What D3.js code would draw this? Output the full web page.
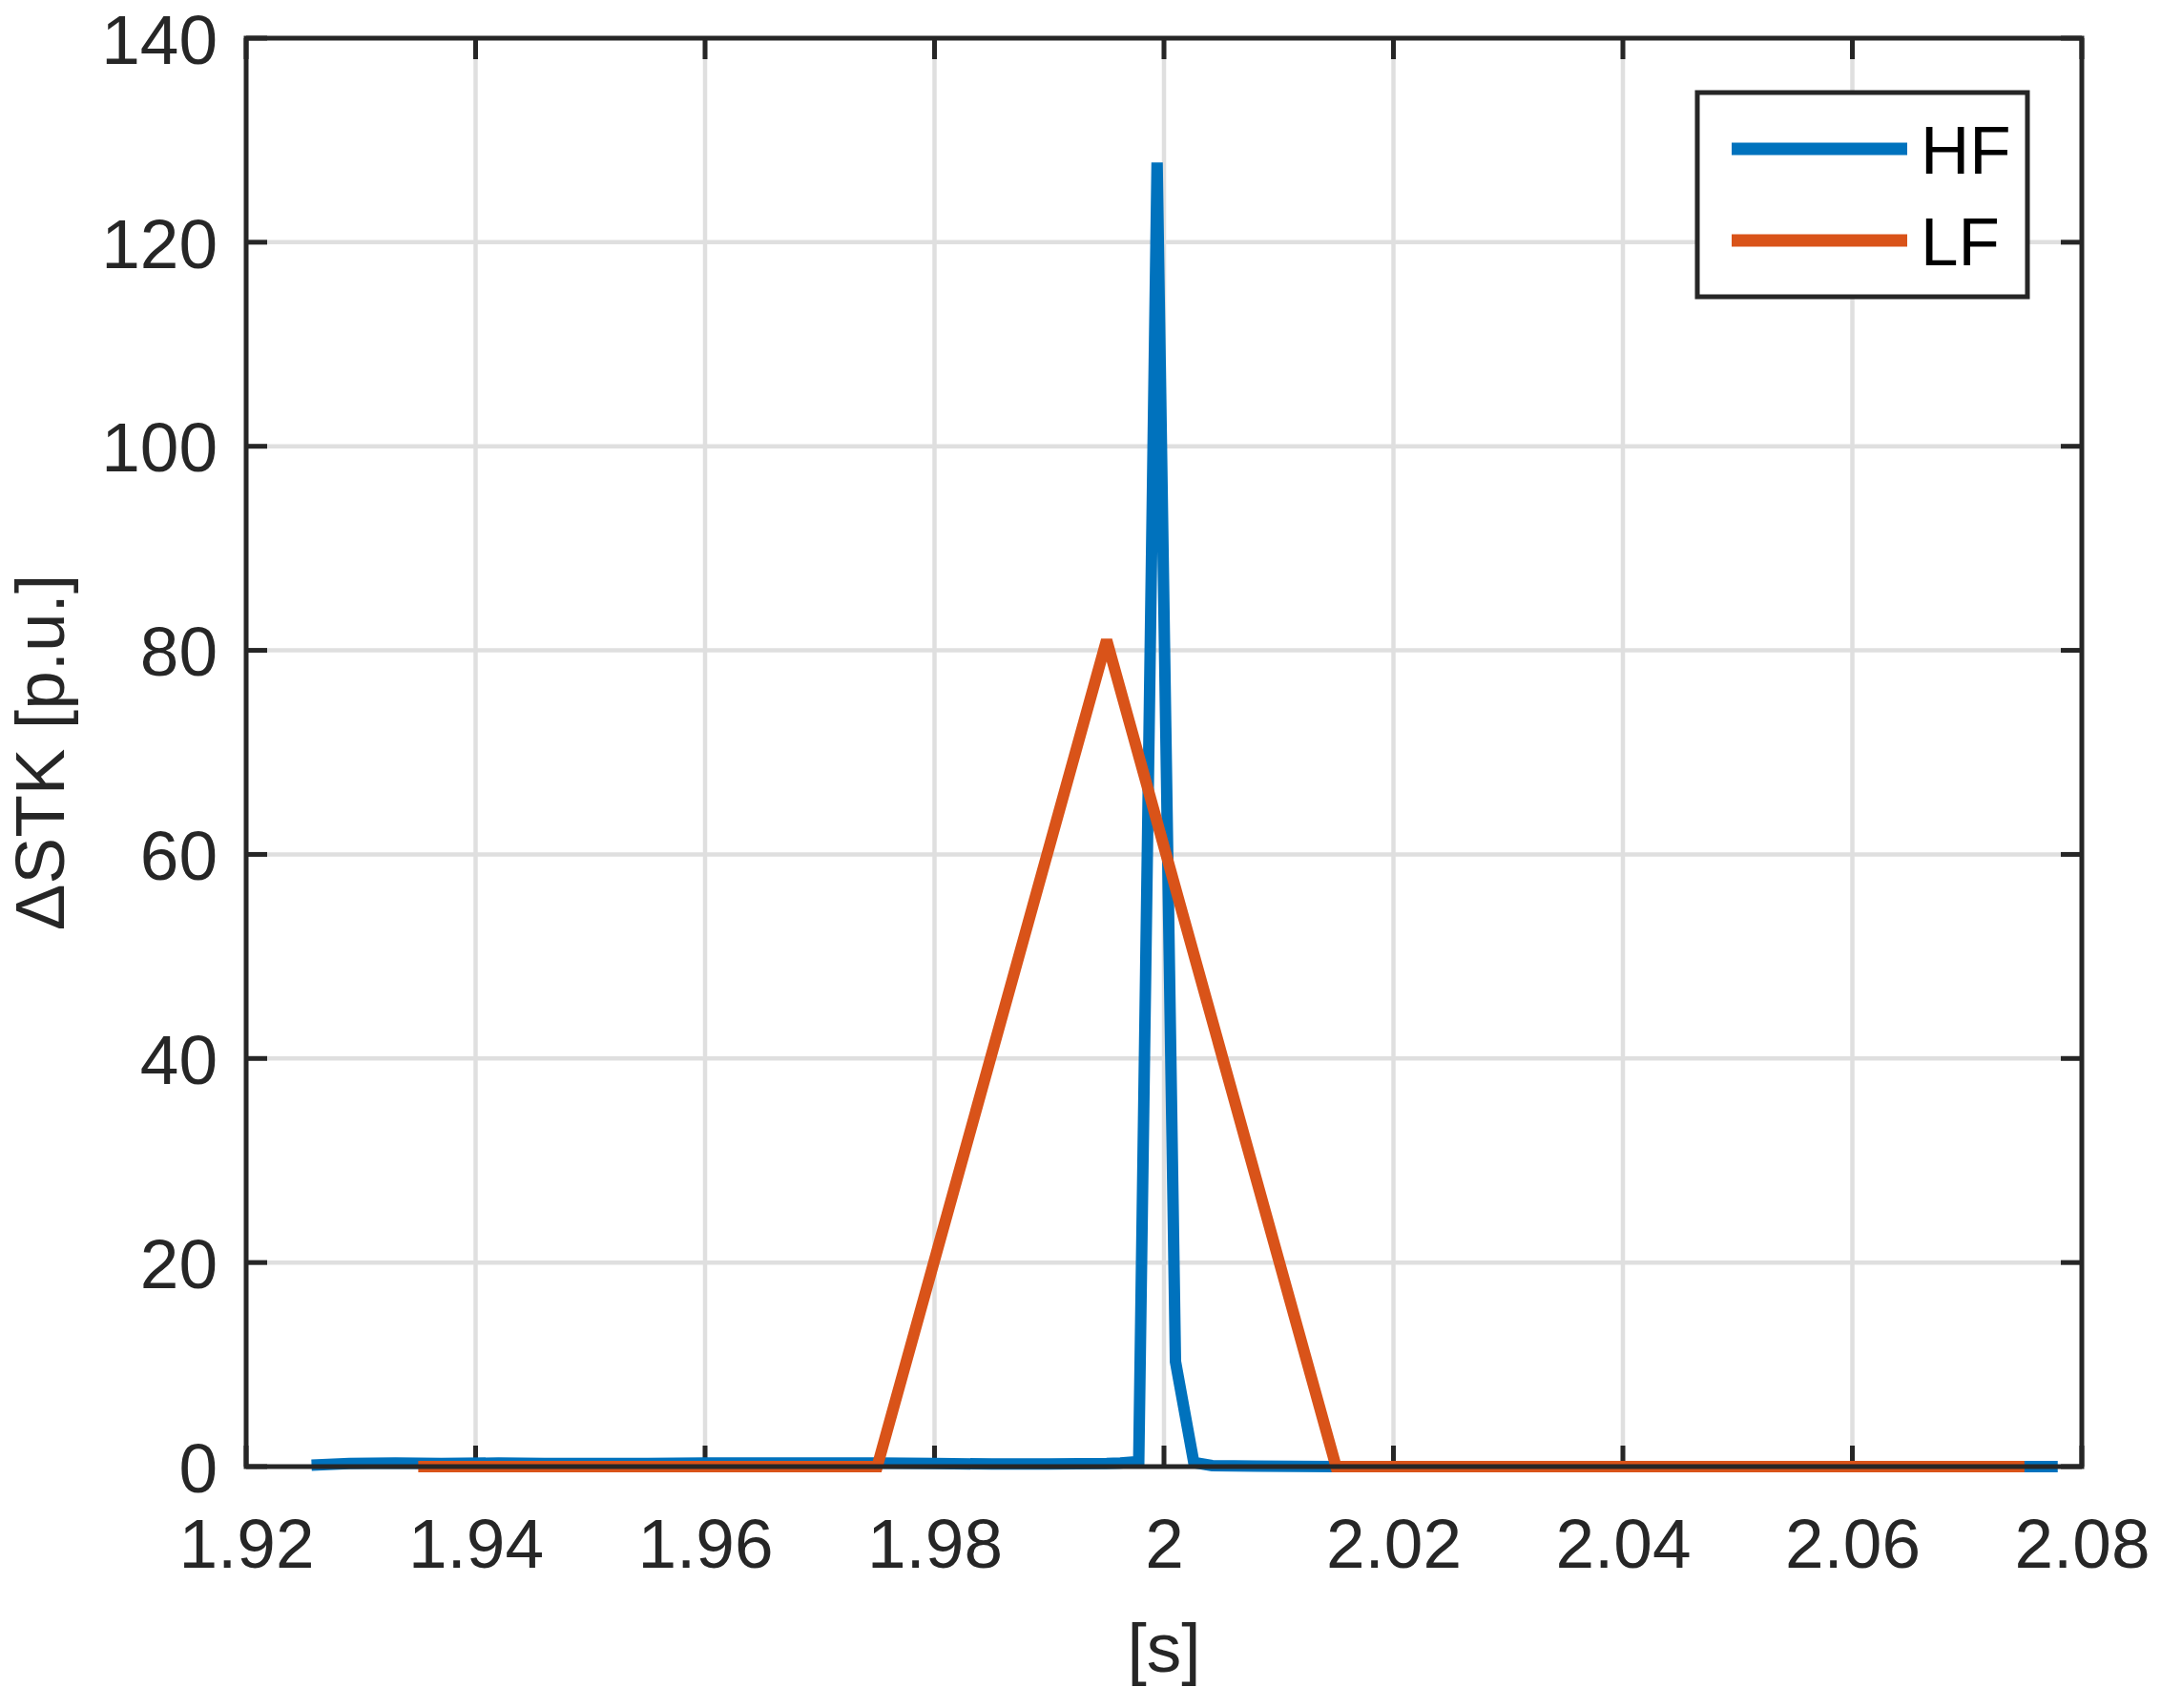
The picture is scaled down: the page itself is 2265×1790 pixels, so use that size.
<!DOCTYPE html>
<html>
<head>
<meta charset="utf-8">
<script src="https://cdn.jsdelivr.net/npm/d3@7"></script>
<style>
  html, body { margin: 0; padding: 0; background: #fff; }
  svg { display: block; }
  text { font-family: "Liberation Sans", Arial, sans-serif; }
</style>
</head>
<body>
<script>
// ---- Data ----
const xTicks = [1.92, 1.94, 1.96, 1.98, 2.00, 2.02, 2.04, 2.06, 2.08];
const xTickLabels = ["1.92", "1.94", "1.96", "1.98", "2", "2.02", "2.04", "2.06", "2.08"];
const yTicks = [0, 20, 40, 60, 80, 100, 120, 140];
const yTickLabels = ["0", "20", "40", "60", "80", "100", "120", "140"];

const hfTime = [1.9257, 1.9290, 1.9330, 1.9370, 1.9420, 1.9460, 1.9500, 1.9550, 1.9600, 1.9650,
                1.9700, 1.9750, 1.9800, 1.9850, 1.9900, 1.9950, 1.9962, 1.9978, 1.9994, 2.0010,
                2.0026, 2.0042, 2.0080, 2.0150, 2.0300, 2.0500, 2.0700, 2.0779];
const hfValue = [0.15, 0.3, 0.35, 0.3, 0.35, 0.3, 0.3, 0.3, 0.35, 0.35,
                 0.35, 0.35, 0.3, 0.25, 0.25, 0.3, 0.35, 0.5, 127.8, 10.3,
                 0.4, 0.1, 0.05, 0.0, 0.0, 0.0, 0.0, 0.0];

const lfTime = [1.935, 1.955, 1.975, 1.995, 2.015, 2.035, 2.055, 2.075];
const lfValue = [0, 0, 0, 81, 0, 0, 0, 0];

const seriesNames = ["HF", "LF"];
const seriesColors = ["#0072BD", "#D95319"];

// ---- Layout ----
const W = 2265, H = 1790;
const pL = 258, pR = 2182, pT = 40, pB = 1537;
const axisColor = "#262626";
const fontSize = 73;

const svg = d3.select("body").append("svg").attr("width", W).attr("height", H);
svg.append("rect").attr("width", W).attr("height", H).attr("fill", "#fff");

const x = d3.scaleLinear().domain([1.92, 2.08]).range([pL, pR]);
const y = d3.scaleLinear().domain([0, 140]).range([pB, pT]);

// Grid
const grid = svg.append("g");
grid.selectAll(".gx").data(xTicks.slice(1, -1)).enter().append("line")
  .attr("x1", d => x(d)).attr("x2", d => x(d)).attr("y1", pT).attr("y2", pB)
  .attr("stroke", "#dfdfdf").attr("stroke-width", 4.5);
grid.selectAll(".gy").data(yTicks.slice(1, -1)).enter().append("line")
  .attr("x1", pL).attr("x2", pR).attr("y1", d => y(d)).attr("y2", d => y(d))
  .attr("stroke", "#dfdfdf").attr("stroke-width", 4.5);

// Inner ticks (all four sides)
const tickLen = 22;
const ticks = svg.append("g").attr("stroke", axisColor).attr("stroke-width", 5);
xTicks.forEach(t => {
  ticks.append("line").attr("x1", x(t)).attr("x2", x(t)).attr("y1", pB).attr("y2", pB - tickLen);
  ticks.append("line").attr("x1", x(t)).attr("x2", x(t)).attr("y1", pT).attr("y2", pT + tickLen);
});
yTicks.forEach(t => {
  ticks.append("line").attr("x1", pL).attr("x2", pL + tickLen).attr("y1", y(t)).attr("y2", y(t));
  ticks.append("line").attr("x1", pR).attr("x2", pR - tickLen).attr("y1", y(t)).attr("y2", y(t));
});

// Series lines
const line = d3.line().x(d => x(d[0])).y(d => y(d[1]));
const hfData = hfTime.map((t, i) => [t, hfValue[i]]);
const lfData = lfTime.map((t, i) => [t, lfValue[i]]);
svg.append("path").datum(hfData).attr("d", line).attr("fill", "none")
  .attr("stroke", seriesColors[0]).attr("stroke-width", 12).attr("stroke-linejoin", "miter").attr("stroke-miterlimit", 1.5);
svg.append("path").datum(lfData).attr("d", line).attr("fill", "none")
  .attr("stroke", seriesColors[1]).attr("stroke-width", 12).attr("stroke-linejoin", "miter").attr("stroke-miterlimit", 3);

// Box
svg.append("rect").attr("x", pL).attr("y", pT).attr("width", pR - pL).attr("height", pB - pT)
  .attr("fill", "none").attr("stroke", axisColor).attr("stroke-width", 5);

// Tick labels
const xAxis = d3.axisBottom(x).tickValues(xTicks).tickFormat((d, i) => xTickLabels[i]).tickSize(0).tickPadding(0);
const gx = svg.append("g").attr("transform", `translate(0,${pB})`).call(xAxis);
gx.select(".domain").remove();
gx.selectAll("text").attr("font-size", fontSize).attr("fill", axisColor)
  .attr("font-family", "Liberation Sans, Arial, sans-serif")
  .attr("dy", null).attr("y", 106);

const yAxis = d3.axisLeft(y).tickValues(yTicks).tickFormat((d, i) => yTickLabels[i]).tickSize(0).tickPadding(0);
const gy = svg.append("g").attr("transform", `translate(${pL},0)`).call(yAxis);
gy.select(".domain").remove();
gy.selectAll("text").attr("font-size", fontSize).attr("fill", axisColor)
  .attr("font-family", "Liberation Sans, Arial, sans-serif")
  .attr("x", -30).attr("dy", "0.36em");

// Axis labels
svg.append("text").attr("x", (pL + pR) / 2).attr("y", 1752).attr("text-anchor", "middle")
  .attr("font-size", fontSize).attr("fill", axisColor).text("[s]");
svg.append("text").attr("transform", `translate(67,${(pT + pB) / 2}) rotate(-90)`)
  .attr("text-anchor", "middle").attr("font-size", fontSize).attr("fill", axisColor).text("ΔSTK [p.u.]");

// Legend
const lg = svg.append("g");
lg.append("rect").attr("x", 1779).attr("y", 97).attr("width", 2125 - 1779).attr("height", 311 - 97)
  .attr("fill", "#fff").attr("stroke", axisColor).attr("stroke-width", 5);
const legY = [156, 252];
seriesNames.forEach((name, i) => {
  lg.append("line").attr("x1", 1815).attr("x2", 1999).attr("y1", legY[i]).attr("y2", legY[i])
    .attr("stroke", seriesColors[i]).attr("stroke-width", 13);
  lg.append("text").attr("x", 2013).attr("y", legY[i] + 26).attr("font-size", 71)
    .attr("fill", "#000").text(name);
});
</script>
</body>
</html>
